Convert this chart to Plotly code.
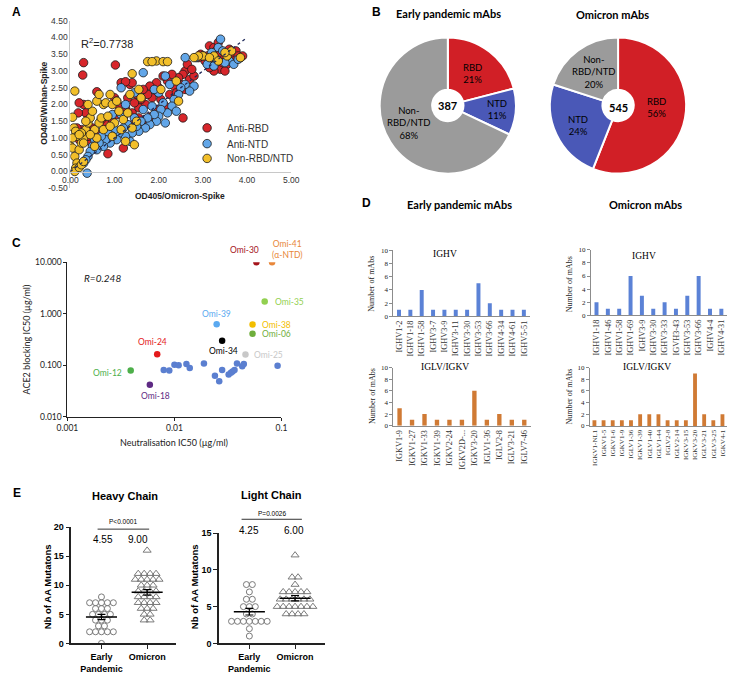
import plotly.graph_objects as go
import numpy as np
from collections import Counter

W, H = 737, 676
def X(px): return px / W
def Y(py): return 1 - py / H

# ================= Panel A data =================
rbd_x = [3.15,3.25,3.3,3.4,3.5,3.55,3.6,3.65,3.7,3.75,3.8,3.85,3.2,3.3,3.4,3.25,3.15,3.1,3.45,3.55,3.6,3.35,3.7,3.9,3.5,3.05,2.95,2.9,
         2.6,2.65,2.55,2.7,2.5,2.45,2.3,2.2,2.35,2.1,2.0,1.95,1.9,1.85,1.8,1.75,1.7,1.65,1.6,1.55,1.5,1.45,1.4,1.35,1.3,1.25,1.2,1.15,1.1,1.05,1.0,0.95,
         0.9,0.85,0.8,0.75,0.7,0.65,0.6,0.55,0.5,0.45,0.4,0.35,0.3,0.25,0.2,0.15,2.05,2.25,2.4,2.15,1.95,1.85,1.7,1.55,1.45,2.8,2.75,2.6,
         0.3,0.28,1.02,0.2,0.18,0.6,2.55,0.85,1.2,1.4,1.25]
rbd_y = [3.75,3.7,3.6,3.5,3.4,3.55,3.45,3.35,3.5,3.6,3.45,3.4,3.3,3.15,3.05,3.0,3.1,3.45,3.25,3.2,3.65,3.85,3.3,3.45,3.0,3.3,3.5,3.4,
         3.0,3.2,2.9,2.75,2.6,2.8,2.9,2.7,2.55,2.85,2.5,2.65,2.35,2.2,2.55,2.3,2.0,2.45,2.15,1.9,2.3,2.05,1.75,2.6,2.2,1.9,1.6,2.65,1.95,1.7,2.2,1.5,
         1.3,1.05,1.4,1.2,1.55,0.95,1.1,0.8,1.3,0.9,1.05,1.75,2.0,1.25,0.95,1.3,2.15,2.3,2.35,1.95,1.85,1.65,1.55,1.6,1.45,2.85,3.05,2.45,
         3.25,2.88,3.18,2.05,1.75,2.38,1.6,0.53,0.7,2.65,2.68]

ntd_x = [3.4,3.35,3.45,3.2,3.0,2.85,2.6,3.1,3.3,3.6,3.7,3.8,3.5,3.55,3.25,
         2.8,2.7,2.6,2.5,2.45,2.35,2.3,2.2,2.15,2.1,2.05,2.0,1.95,1.9,1.85,1.8,1.75,1.7,1.65,1.6,
         1.55,1.5,1.45,1.4,1.35,1.3,1.25,1.2,1.15,1.1,1.05,1.0,0.95,0.9,0.85,0.8,0.75,0.7,0.65,0.6,
         0.55,0.5,0.45,0.4,0.35,0.3,0.38,1.65,2.15,2.25,1.15,2.0,1.45,1.25,2.4,1.9,0.95,1.05]
ntd_y = [3.95,3.7,3.6,3.55,3.45,3.4,3.4,3.2,3.35,3.3,3.2,3.35,3.25,3.5,3.15,
         2.55,2.4,2.6,2.5,2.3,2.15,1.95,1.75,1.45,2.05,1.85,1.65,1.5,1.7,1.95,1.4,1.6,1.3,1.85,1.5,
         1.2,1.35,1.6,1.15,0.9,1.4,1.05,1.3,1.7,1.15,0.95,1.25,1.05,0.85,1.15,0.95,0.75,1.05,0.85,0.65,
         0.95,0.75,0.6,0.45,0.35,0.25,-0.05,2.95,2.85,2.6,2.5,2.35,2.35,2.0,1.8,2.45,1.7,2.1]

non_x = [3.25,3.35,3.0,2.9,2.8,3.55,3.65,3.85,3.5,3.15,
         1.75,1.95,2.1,2.2,1.85,1.4,
         0.1,0.05,0.08,0.12,0.15,0.05,0.0,0.05,0.1,0.15,0.12,0.1,0.2,0.25,0.3,0.2,0.25,0.3,0.35,0.4,
         0.45,0.5,0.55,0.6,0.65,0.7,0.75,0.8,0.85,0.9,0.95,0.6,0.65,0.4,0.35,0.25,0.2,0.3,1.0,1.05,
         1.1,1.2,1.3,1.35,1.55,1.6,1.5,1.4,1.45,1.25,1.15,2.05,2.45,2.4,0.75,0.55,0.45,0.9,0.95]
non_y = [3.45,3.3,3.45,3.45,3.4,3.45,3.6,3.4,3.55,3.4,
         3.28,3.3,3.28,3.28,3.28,2.92,
         2.4,1.62,1.3,1.2,1.05,1.0,0.75,0.7,0.45,0.25,0.1,0.0,0.12,0.2,0.3,0.65,0.85,1.0,1.25,1.45,
         1.6,1.8,1.25,1.0,1.45,1.6,2.0,2.05,1.65,2.3,2.0,2.1,2.3,2.0,1.5,1.15,1.1,0.85,1.45,2.1,
         1.8,1.55,1.75,2.3,2.45,2.2,1.5,1.3,0.8,0.9,1.25,2.45,2.1,2.7,1.25,0.75,1.1,1.35,1.05]

a_series_names = ["Anti-RBD", "Anti-NTD", "Non-RBD/NTD"]
trend_slope = 1.0
trend_intercept = 0.0
trend_x = [0.0, 4.0]
a_r2_text = "R<sup>2</sup>=0.7738"
a_xtick_vals = [0, 1, 2, 3, 4, 5]
a_xtick_text = ["0.00", "1.00", "2.00", "3.00", "4.00", "5.00"]
a_ytick_vals = [-0.5, 0, 0.5, 1, 1.5, 2, 2.5, 3, 3.5, 4, 4.5]
a_ytick_text = ["-0.50", "0.00", "0.50", "1.00", "1.50", "2.00", "2.50", "3.00", "3.50", "4.00", "4.50"]

# ================= Panel B data =================
pie_labels = ["RBD", "NTD", "Non-RBD/NTD"]
early_pct = [21, 11, 68]
omicron_pct = [56, 24, 20]
early_total = 387
omicron_total = 545

# ================= Panel C data =================
c_blue_x = [0.00794,0.00895,0.0100,0.01094,0.01294,0.0139,0.01886,0.0239,0.0262,0.0279,0.0321,0.0337,0.0349,0.0364,0.0384,0.0430,0.0445,0.092]
c_blue_y = [0.0813,0.0789,0.1027,0.100,0.106,0.0888,0.1087,0.0624,0.0492,0.0813,0.066,0.0713,0.0755,0.0813,0.1087,0.0953,0.106,0.098]
c_named = ["Omi-30","Omi-41","Omi-35","Omi-39","Omi-38","Omi-06","Omi-34","Omi-24","Omi-25","Omi-12","Omi-18"]
c_named_text = ["Omi-30","Omi-41<br>(α-NTD)","Omi-35","Omi-39","Omi-38","Omi-06","Omi-34","Omi-24","Omi-25","Omi-12","Omi-18"]
c_named_x = [0.0583,0.0817,0.0697,0.0248,0.0537,0.0537,0.0279,0.0069,0.0461,0.0039,0.00589]
c_named_y = [10.0,10.0,1.72,0.624,0.62,0.407,0.299,0.164,0.162,0.0789,0.042]
c_r_text = "R=0.248"
c_xtick_vals = [0.001, 0.01, 0.1]
c_xtick_text = ["0.001", "0.01", "0.1"]
c_ytick_vals = [0.01, 0.1, 1, 10]
c_ytick_text = ["0.010", "0.100", "1.000", "10.000"]

# ================= Panel D data =================
early_ighv_genes = ["IGHV1-2","IGHV1-18","IGHV1-58","IGHV3-7","IGHV3-9","IGHV3-11","IGHV3-30","IGHV3-53","IGHV3-66","IGHV4-34","IGHV4-61","IGHV5-51"]
early_ighv_counts = [1,1,4,1,1,1,1,5,2,1,1,1]
early_igl_genes = ["IGKV1-9","IGKV1-27","IGKV1-33","IGKV1-39","IGKV2-24","IGKV2D-...","IGKV3-20","IGLV1-36","IGLV2-8","IGLV3-21","IGLV7-46"]
early_igl_counts = [3,1,2,1,1,1,6,1,2,1,1]
omi_ighv_genes = ["IGHV1-18","IGHV1-46","IGHV1-58","IGHV1-69","IGHV3-9","IGHV3-30","IGHV3-33","IGVH3-43","IGHV3-53","IGHV3-66","IGHV4-4","IGHV4-31"]
omi_ighv_counts = [2,1,1,6,3,1,2,1,3,6,1,1]
omi_igl_genes = ["IGKV1-NL1","IGKV1-5","IGKV1-6","IGKV1-9","IGLV1-36","IGKV1-39","IGLV1-40","IGLV1-44","IGLV2-8","IGLV2-14","IGKV3-15","IGKV3-20","IGLV3-21","IGLV3-25","IGKV4-1"]
omi_igl_counts = [1,1,1,1,1,2,2,2,1,1,1,9,2,1,2]
d_ytick_vals = [0, 2, 4, 6, 8, 10]

# ================= Panel E data =================
heavy_early = [0,2,2,2,2,2,3,3,4,4,4,5,5,5,5,6,6,6,7,7,7,7,7,8]
heavy_omicron = [4,4,5,5,6,6,6,7,7,7,7,8,8,8,8,9,9,9,9,10,10,10,11,11,11,11,11,12,12,12,12,16]
light_early = [1,2,3,3,3,3,3,3,3,4,4,5,5,5,6,6,7,8,8]
light_omicron = [4,4,4,4,5,5,5,5,5,5,5,6,6,6,6,6,6,7,7,7,7,7,8,9,9,12]
e_groups = ["Early<br>Pandemic", "Omicron"]
heavy_median_text = ["4.55", "9.00"]
light_median_text = ["4.25", "6.00"]
heavy_p = "P<0.0001"
light_p = "P=0.0026"

# ================= Styling =================
SANS = "Liberation Sans"
CAL = "Lato"
SERIF = "Liberation Serif"
A_COLORS = ["#D7262B", "#62A6E8", "#F2BF2A"]
PIE_COLORS = ["#D11F26", "#4A58B7", "#9B9B9B"]
C_BLUE = "#5B7FD0"
C_NAMED_COLORS = ["#A5141B", "#E8873A", "#92D050", "#5AA9F0", "#F2BE00", "#6FAE3C",
                  "#000000", "#E41A1C", "#C8C8C8", "#4DAF4A", "#5E2A84"]
BAR_BLUE = "#5B82D6"
BAR_ORANGE = "#D07A34"
E_GRAY = "#7A7A7A"

fig = go.Figure()

# ---- Panel A ----
legend_ids = ["legend", "legend2", "legend3"]
for name, xs, ys, col, lg in zip(a_series_names, [rbd_x, ntd_x, non_x], [rbd_y, ntd_y, non_y], A_COLORS, legend_ids):
    fig.add_trace(go.Scatter(x=xs, y=ys, mode="markers", name=name, xaxis="x", yaxis="y", legend=lg,
                             marker=dict(size=8.5, color=col, line=dict(color="#1a1a1a", width=0.8))))
fig.add_trace(go.Scatter(x=trend_x, y=[trend_intercept + trend_slope * v for v in trend_x], mode="lines",
                         xaxis="x", yaxis="y", showlegend=False,
                         line=dict(color="#1F2A5A", width=1.3, dash="dot")))

# ---- Panel B ----
pie_dom = [([379, 519], [32, 172]), ([554, 694], [32, 172])]
for vals, (dx, dy) in zip([early_pct, omicron_pct], pie_dom):
    fig.add_trace(go.Pie(values=vals, labels=pie_labels, sort=False, direction="clockwise", rotation=0,
                         hole=0.23, textinfo="none", showlegend=False, hoverinfo="skip",
                         marker=dict(colors=PIE_COLORS, line=dict(color="white", width=2)),
                         domain=dict(x=[X(dx[0]), X(dx[1])], y=[Y(dy[1]), Y(dy[0])])))

# ---- Panel C ----
fig.add_trace(go.Scatter(x=c_blue_x, y=c_blue_y, mode="markers", xaxis="x2", yaxis="y2", showlegend=False,
                         marker=dict(size=6.5, color=C_BLUE)))
fig.add_trace(go.Scatter(x=c_named_x, y=c_named_y, mode="markers", xaxis="x2", yaxis="y2", showlegend=False,
                         marker=dict(size=6.5, color=C_NAMED_COLORS)))

# ---- Panel D ----
d_sets = [(early_ighv_genes, early_ighv_counts, BAR_BLUE, "x3", "y3", 0.35),
          (early_igl_genes, early_igl_counts, BAR_ORANGE, "x4", "y4", 0.35),
          (omi_ighv_genes, omi_ighv_counts, BAR_BLUE, "x5", "y5", 0.35),
          (omi_igl_genes, omi_igl_counts, BAR_ORANGE, "x6", "y6", 0.42)]
for genes, counts, col, xa, ya, bw in d_sets:
    fig.add_trace(go.Bar(x=genes, y=counts, marker=dict(color=col, line=dict(width=0)), width=bw,
                         xaxis=xa, yaxis=ya, showlegend=False))

# ---- Panel E ----
def swarm(vals, center, dx):
    counts = Counter(vals)
    seen = {}
    xs = []
    for v in vals:
        n = counts[v]
        i = seen.get(v, 0)
        seen[v] = i + 1
        xs.append(center + (i - (n - 1) / 2) * dx)
    return xs, list(vals)

for (early, omi, xa, ya) in [(heavy_early, heavy_omicron, "x7", "y7"), (light_early, light_omicron, "x8", "y8")]:
    for k, (vals, sym, sz) in enumerate([(early, "circle-open", 6), (omi, "triangle-up-open", 7)]):
        c = k + 1
        xs, ys = swarm(vals, c, 0.13)
        fig.add_trace(go.Scatter(x=xs, y=ys, mode="markers", xaxis=xa, yaxis=ya, showlegend=False,
                                 marker=dict(symbol=sym, size=sz, color=E_GRAY, line=dict(width=1, color=E_GRAY))))
        m = float(np.mean(vals))
        sem = float(np.std(vals, ddof=1) / np.sqrt(len(vals)))
        fig.add_trace(go.Scatter(x=[c - 0.34, c + 0.34], y=[m, m], mode="lines", xaxis=xa, yaxis=ya,
                                 showlegend=False, line=dict(color="black", width=1.5)))
        fig.add_trace(go.Scatter(x=[c], y=[m], mode="markers", xaxis=xa, yaxis=ya, showlegend=False,
                                 marker=dict(size=1, color="black"),
                                 error_y=dict(type="data", array=[sem], color="black", thickness=1.2, width=4)))

# ================= Layout =================
def dom_x(a, b): return [X(a), X(b)]
def dom_y(top, bot): return [Y(bot), Y(top)]

axis_common = dict(showgrid=False, zeroline=False)
tf_a = dict(size=8.5, family=SANS, color="#333")
tf_c = dict(size=8.5, family=CAL, color="#222")
tf_e = dict(size=9, family=SANS, color="black")

layout = dict(
    width=W, height=H, margin=dict(l=0, r=0, t=0, b=0),
    paper_bgcolor="white", plot_bgcolor="white",
    xaxis=dict(domain=dom_x(61, 288), range=[0, 5], anchor="free", position=Y(169),
               tickvals=a_xtick_vals, ticktext=a_xtick_text, showline=True, linecolor="#C8C8C8",
               ticks="", tickfont=tf_a, **axis_common),
    yaxis=dict(domain=dom_y(16, 186), range=[-0.5, 4.5], anchor="x", tickvals=a_ytick_vals,
               ticktext=a_ytick_text, showline=True, linecolor="#C8C8C8", ticks="", tickfont=tf_a,
               **axis_common),
    xaxis2=dict(domain=dom_x(58, 278), type="log", range=[-3, -1], anchor="y2",
                tickvals=c_xtick_vals, ticktext=c_xtick_text, showline=True, linecolor="#222",
                ticks="outside", ticklen=3, tickcolor="#222", tickfont=tf_c, **axis_common),
    yaxis2=dict(domain=dom_y(261, 418), type="log", range=[-2, 1], anchor="x2",
                tickvals=c_ytick_vals, ticktext=c_ytick_text, showline=True, linecolor="#222",
                ticks="outside", ticklen=3, tickcolor="#222", tickfont=tf_c, **axis_common),
)

for lg, cy in zip(legend_ids, [127, 143, 158]):
    layout[lg] = dict(x=X(181), y=Y(cy - 17), xanchor="left", yanchor="top", bgcolor="rgba(0,0,0,0)",
                      font=dict(size=10, family=SANS, color="#333"), itemwidth=30)

d_axes = [("3", (393, 533), (249, 316), 8.3), ("4", (393, 534), (368, 427), 8.3),
          ("5", (596, 736), (248.5, 315), 8.3), ("6", (595, 736), (368, 427.3), 7.0)]
for n, (xa, xb), (ytop, ybot), fs in d_axes:
    layout["xaxis" + n] = dict(domain=dom_x(xa, xb), anchor="y" + n, type="category", tickangle=-90,
                               showline=True, linecolor="#8C8C8C", ticks="",
                               tickfont=dict(size=fs, family=SERIF, color="#333"), **axis_common)
    layout["yaxis" + n] = dict(domain=dom_y(ytop, ybot), anchor="x" + n, range=[0, 10], tickvals=d_ytick_vals,
                               showline=True, linecolor="#8C8C8C", ticks="outside", ticklen=3,
                               tickcolor="#8C8C8C", tickfont=dict(size=7, family=SERIF, color="#222"),
                               **axis_common)

e_axes = [("7", (62, 170), (0.34, 2.64), (530, 648), 20, [0, 5, 10, 15, 20]),
          ("8", (214, 323), (0.34, 2.66), (536, 648), 15, [0, 5, 10, 15])]
for n, (xa, xb), xr, (ytop, ybot), ymax, yt in e_axes:
    layout["xaxis" + n] = dict(domain=dom_x(xa, xb), anchor="y" + n, range=list(xr), tickvals=[1, 2],
                               ticktext=["<b>" + g + "</b>" for g in e_groups], showline=True,
                               linecolor="#222", linewidth=1.6, ticks="outside", ticklen=4, tickwidth=1.4,
                               tickcolor="#222", tickfont=tf_e, **axis_common)
    layout["yaxis" + n] = dict(domain=dom_y(ytop, ybot), anchor="x" + n, range=[0, ymax], tickvals=yt,
                               ticktext=["<b>%d</b>" % v for v in yt], showline=True, linecolor="#222",
                               linewidth=1.6, ticks="outside", ticklen=4, tickwidth=1.4, tickcolor="#222",
                               tickfont=tf_e, **axis_common)

fig.update_layout(**layout)

# ================= Annotations =================
ann = []
def txt(text, px, py, size, family, color="black", xanchor="center", yanchor="middle", angle=0):
    ann.append(dict(text=text, x=X(px), y=Y(py), xref="paper", yref="paper", showarrow=False,
                    font=dict(size=size, family=family, color=color), xanchor=xanchor, yanchor=yanchor,
                    textangle=angle))

# panel letters
txt("<b>A</b>", 6, 7, 12, SANS)
txt("<b>B</b>", 376, 7, 12, SANS)
txt("<b>C</b>", 6, 242, 12, SANS)
txt("<b>D</b>", 365, 201, 12, SANS)
txt("<b>E</b>", 6, 495, 12, SANS)

# Panel A
txt(a_r2_text, 70, 39, 11, SANS, color="#222", xanchor="left")
txt("<b>OD405/Wuhan-Spike</b>", 33, 100, 8.5, SANS, color="#222", angle=-90)
txt("<b>OD405/Omicron-Spike</b>", 174, 194, 8.5, SANS, color="#222")

# Panel B
txt("<b>Early pandemic mAbs</b>", 450, 9, 11, CAL)
txt("<b>Omicron mAbs</b>", 618, 10, 11, CAL)
txt("RBD<br>21%", 474, 70, 9.5, CAL)
txt("NTD<br>11%", 500, 106, 9.5, CAL)
txt("Non-<br>RBD/NTD<br>68%", 409, 120, 9.5, CAL)
txt("Non-<br>RBD/NTD<br>20%", 599, 68, 9.5, CAL)
txt("NTD<br>24%", 583, 122, 9.5, CAL)
txt("RBD<br>56%", 663, 104, 9.5, CAL)
txt("<b>%d</b>" % early_total, 449, 102, 11, CAL)
txt("<b>%d</b>" % omicron_total, 624, 104, 11, CAL)

# Panel C
txt("<i>" + c_r_text + "</i>", 73, 277, 10, CAL, color="#222", xanchor="left")
txt("Neutralisation IC50 (µg/ml)", 168, 444, 9, CAL, color="#222")
txt("ACE2 blocking IC50 (µg/ml)", 16, 340, 9, CAL, color="#222", angle=-90)
c_offsets = {"Omi-30": (-12, 12, "center"), "Omi-41": (15, 13, "center"), "Omi-35": (8, 0, "left"),
             "Omi-39": (0, 10, "center"), "Omi-38": (7, -1, "left"), "Omi-06": (7, 0, "left"),
             "Omi-34": (1, -10, "center"), "Omi-24": (-5, 12, "center"), "Omi-25": (7, -1, "left"),
             "Omi-12": (-7, -2, "right"), "Omi-18": (6, -11, "center")}
for name, label, xv, yv, col in zip(c_named, c_named_text, c_named_x, c_named_y, C_NAMED_COLORS):
    dxs, dys, xan = c_offsets[name]
    ann.append(dict(text=label, x=np.log10(xv), y=np.log10(yv), xref="x2", yref="y2", showarrow=False,
                    xshift=dxs, yshift=dys, xanchor=xan, yanchor="middle",
                    font=dict(size=8.5, family=CAL, color=col)))

# Panel D
txt("<b>Early pandemic mAbs</b>", 461, 202, 11, CAL)
txt("<b>Omicron mAbs</b>", 652, 202, 11, CAL)
txt("IGHV", 446, 253, 9.5, SERIF)
txt("IGLV/IGKV", 446, 367, 9.5, SERIF)
txt("IGHV", 651, 255, 9.5, SERIF)
txt("IGLV/IGKV", 654, 367, 9.5, SERIF)
for px, py in [(371, 283), (371, 397), (574, 283), (574, 397)]:
    txt("Number of mAbs", px, py, 8, SERIF, color="#222", angle=-90)

# Panel E
txt("<b>Heavy Chain</b>", 117, 498, 11, SANS)
txt("<b>Light Chain</b>", 268, 497, 11, SANS)
txt("<b>Nb of AA Mutatons</b>", 37, 590, 9.5, SANS, angle=-90)
txt("<b>Nb of AA Mutatons</b>", 188, 590, 9.5, SANS, angle=-90)
txt(heavy_p, 115, 524, 6.5, SANS)
txt(light_p, 268, 516, 6.5, SANS)
txt(heavy_median_text[0], 95, 543, 10, SANS)
txt(heavy_median_text[1], 131, 543, 10, SANS)
txt(light_median_text[0], 245, 533, 10, SANS)
txt(light_median_text[1], 291, 533, 10, SANS)

shapes = [dict(type="line", xref="paper", yref="paper", x0=X(89), x1=X(142), y0=Y(532), y1=Y(532),
               line=dict(color="#333", width=1)),
          dict(type="line", xref="paper", yref="paper", x0=X(237), x1=X(299), y0=Y(522), y1=Y(522),
               line=dict(color="#333", width=1))]

fig.update_layout(annotations=ann, shapes=shapes)

fig.write_html("out.html", config={"displayModeBar": False},
               post_script="document.body.style.margin='0';document.body.style.overflow='hidden';")
